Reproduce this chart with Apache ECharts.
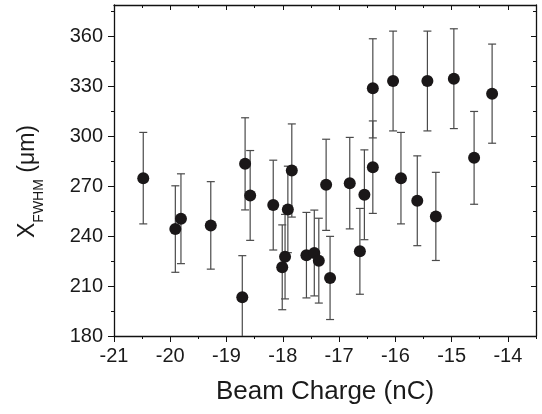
<!DOCTYPE html>
<html>
<head>
<meta charset="utf-8">
<script src="https://cdn.jsdelivr.net/npm/echarts@6/dist/echarts.min.js"></script>
<style>
  html, body { margin: 0; padding: 0; background: #fff; }
  #chart { width: 542px; height: 414px; }
</style>
</head>
<body>
<div id="chart"></div>
<script>
// data
const charge = [-20.48, -19.91, -19.81, -19.28, -18.72, -18.67, -18.58, -18.17, -18.01, -17.96,
  -17.91, -17.84, -17.58, -17.44, -17.36, -17.23, -17.16, -16.81, -16.63, -16.55,
  -16.40, -16.40, -16.04, -15.90, -15.61, -15.43, -15.28, -14.96, -14.60, -14.28];
const fwhm = [274.9, 244.3, 250.5, 246.5, 203.3, 283.5, 264.5, 258.7, 221.3, 227.7,
  256.1, 279.5, 228.6, 229.9, 225.3, 270.9, 214.9, 271.9, 230.9, 264.9,
  281.5, 328.9, 333.3, 274.9, 261.3, 333.3, 251.9, 334.7, 287.1, 325.7];
const fwhmErr = [27.5, 26, 27, 26.3, 25, 27.7, 27, 27, 25.5, 25.4,
  26, 28, 25.7, 25.8, 25.5, 27.4, 25, 27.5, 25.8, 27,
  27.8, 29.8, 30, 27.5, 27, 30, 26.5, 30, 27.9, 29.8];

const xTicks = [-21, -20, -19, -18, -17, -16, -15, -14];
const xMinorTicks = [-20.5, -19.5, -18.5, -17.5, -16.5, -15.5, -14.5, -13.5];
const yTicks = [180, 210, 240, 270, 300, 330, 360];
const yMinorTicks = [195, 225, 255, 285, 315, 345, 375];

const X_MIN = -21, X_MAX = -13.5, Y_MIN = 180, Y_MAX = 379;
const INK = '#111';
const TXT = '#1a1a1a';
const FONT = 'Liberation Sans';

const points = charge.map((c, i) => [c, fwhm[i]]);
const bars = charge.map((c, i) => [c, fwhm[i] - fwhmErr[i], fwhm[i] + fwhmErr[i]]);

function xAxisOf(pos, ticks, len, inside, labels, line) {
  return {
    type: 'value', position: pos, min: X_MIN, max: X_MAX, interval: 1,
    axisLine: { show: line, onZero: false, lineStyle: { color: INK, width: 1.3 } },
    axisTick: { show: true, inside: inside, length: len, customValues: ticks, lineStyle: { color: INK, width: 1 } },
    axisLabel: labels ? { show: true, customValues: xTicks, margin: 10, color: TXT, fontSize: 20, fontFamily: FONT } : { show: false },
    splitLine: { show: false }
  };
}
function yAxisOf(pos, ticks, len, inside, labels, line) {
  return {
    type: 'value', position: pos, min: Y_MIN, max: Y_MAX, interval: 30,
    axisLine: { show: line, onZero: false, lineStyle: { color: INK, width: 1.3 } },
    axisTick: { show: true, inside: inside, length: len, customValues: ticks, lineStyle: { color: INK, width: 1 } },
    axisLabel: labels ? { show: true, customValues: yTicks, margin: 11, color: TXT, fontSize: 20, fontFamily: FONT } : { show: false },
    splitLine: { show: false }
  };
}

const xAxes = [
  xAxisOf('bottom', xTicks, 6, false, true, true),
  xAxisOf('bottom', xMinorTicks, 3, false, false, false),
  xAxisOf('top', xTicks, 5, true, false, true),
  xAxisOf('top', xMinorTicks, 3, true, false, false)
];
xAxes[0].name = 'Beam Charge (nC)';
xAxes[0].nameLocation = 'middle';
xAxes[0].nameGap = 43;
xAxes[0].nameTextStyle = { fontSize: 26, fontFamily: FONT, color: TXT };

const yAxes = [
  yAxisOf('left', yTicks, 6, false, true, true),
  yAxisOf('left', yMinorTicks, 3, false, false, false),
  yAxisOf('right', yTicks, 5, true, false, true),
  yAxisOf('right', yMinorTicks, 3, true, false, false)
];
yAxes[0].name = '{a|X}{b|FWHM}{a| (μm)}';
yAxes[0].nameLocation = 'middle';
yAxes[0].nameGap = 68;
yAxes[0].nameTextStyle = {
  fontFamily: FONT, color: TXT, padding: [0, 22, 0, 0],
  rich: {
    a: { fontSize: 23, fontFamily: FONT, color: TXT, lineHeight: 30, verticalAlign: 'top' },
    b: { fontSize: 14, fontFamily: FONT, color: TXT, lineHeight: 14, verticalAlign: 'bottom' }
  }
};

const myChart = echarts.init(document.getElementById('chart'), null, { renderer: 'canvas' });

const option = {
  animation: false,
  backgroundColor: '#fff',
  grid: { left: 114, right: 6, top: 5, bottom: 78 },
  xAxis: xAxes,
  yAxis: yAxes,
  series: [
    {
      type: 'custom',
      clip: true,
      z: 1,
      data: bars,
      renderItem: (params, api) => {
        const x = api.value(0);
        const lo = api.coord([x, api.value(1)]);
        const hi = api.coord([x, api.value(2)]);
        const w = 4;
        const style = { stroke: '#4a4a4a', lineWidth: 1.2 };
        return {
          type: 'group',
          children: [
            { type: 'line', shape: { x1: lo[0], y1: lo[1], x2: hi[0], y2: hi[1] }, style: style },
            { type: 'line', shape: { x1: hi[0] - w, y1: hi[1], x2: hi[0] + w, y2: hi[1] }, style: style },
            { type: 'line', shape: { x1: lo[0] - w, y1: lo[1], x2: lo[0] + w, y2: lo[1] }, style: style }
          ]
        };
      }
    },
    {
      type: 'scatter',
      z: 3,
      symbol: 'circle',
      symbolSize: 12,
      itemStyle: { color: '#1a1718', opacity: 1 },
      data: points
    }
  ]
};

myChart.setOption(option);
</script>
</body>
</html>
